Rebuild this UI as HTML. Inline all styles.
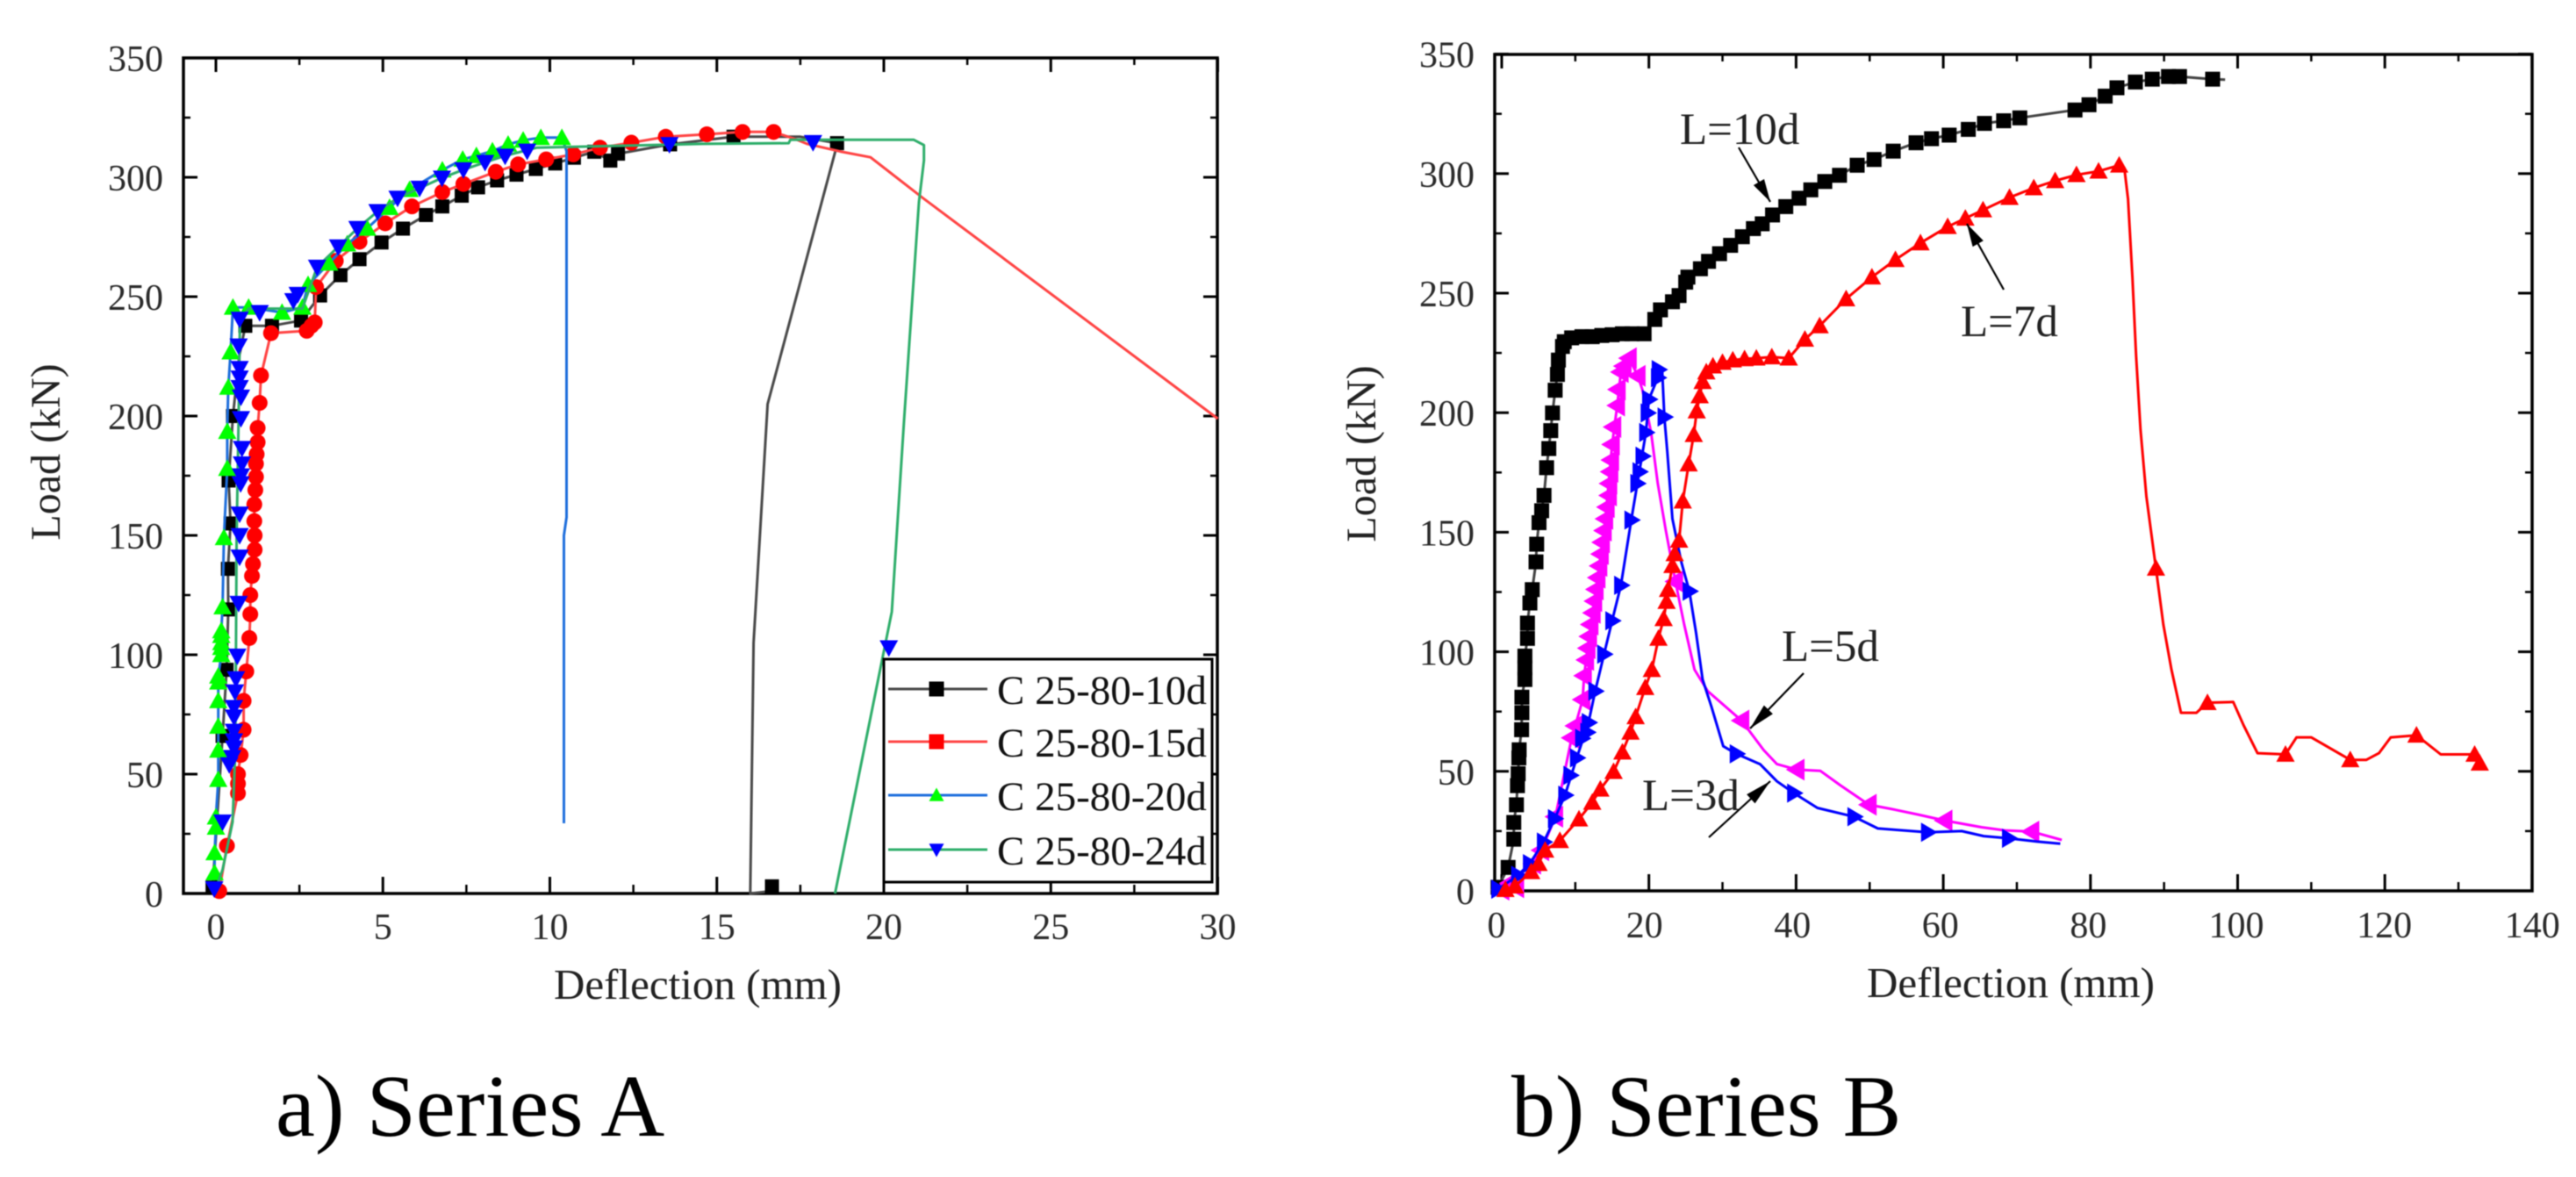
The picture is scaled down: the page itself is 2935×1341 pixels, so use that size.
<!DOCTYPE html>
<html lang="en">
<head>
<meta charset="utf-8">
<title>Load-deflection curves</title>
<style>
html,body{margin:0;padding:0;background:#fff;width:2935px;height:1341px;overflow:hidden}
svg{display:block;filter:blur(0.6px)}
text{font-family:"Liberation Serif","Times New Roman",serif}
</style>
</head>
<body>
<svg id="figure" xmlns="http://www.w3.org/2000/svg" width="2935" height="1341" viewBox="0 0 2935 1341">
<rect width="2935" height="1341" fill="#fff"/>
<g id="plotA"></g>
<g id="plotB"></g>
<text transform="translate(68,515) rotate(-90)" text-anchor="middle" font-size="48" fill="#222">Load (kN)</text>
<text transform="translate(1567,517) rotate(-90)" text-anchor="middle" font-size="48" fill="#222">Load (kN)</text>
<text x="795" y="1138" text-anchor="middle" font-size="49" fill="#222">Deflection (mm)</text>
<text x="2291" y="1136" text-anchor="middle" font-size="49" fill="#222">Deflection (mm)</text>
<text x="314" y="1294" font-size="101" fill="#000">a) Series A</text>
<text x="1722" y="1294" font-size="100" fill="#000">b) Series B</text>
<text x="1914" y="164" font-size="51" fill="#222">L=10d</text>
<text x="2234" y="383" font-size="51" fill="#222">L=7d</text>
<text x="2030" y="753" font-size="51" fill="#222">L=5d</text>
<text x="1871" y="923" font-size="51" fill="#222">L=3d</text>
<g id="arrows"></g>
<g id="legend"></g>
</svg>
<script>
/* ---------- tick data ---------- */
const aXTicks = [0,5,10,15,20,25,30];
const aXMinor = [2.5,7.5,12.5,17.5,22.5,27.5];
const bXTicks = [0,20,40,60,80,100,120,140];
const bXMinor = [10,30,50,70,90,110,130];
const yTicks = [0,50,100,150,200,250,300,350];
const yMinor = [25,75,125,175,225,275,325];

/* ---------- series A : marker readings ---------- */
const a10MarkX = [-0.1,0.2,0.32,0.37,0.36,0.44,0.38,0.51,0.88,1.68,2.55,3.12,3.73,4.3,4.96,5.6,6.29,6.78,7.36,7.85,8.42,9.0,9.58,10.16,10.72,11.33,11.81,12.04,13.6,15.5,18.6,16.65];
const a10MarkY = [2.5,66,93.7,119,136,155,173,200,237.8,237.8,240,250.5,259,265.7,272.7,278.5,284.2,287.8,292.3,295.8,298.7,301.1,303.5,305.8,308.2,310.7,307,309.9,313.8,317,314.3,3];
const a10LineX = [-0.1,0.2,0.32,0.37,0.36,0.44,0.38,0.51,0.7,0.88,1.68,2.55,3.12,3.73,4.3,4.96,5.6,6.29,6.78,7.36,7.85,8.42,9.0,9.58,10.16,10.72,11.33,11.81,12.04,13.6,15.5,17.5,18.6,18.55,16.52,16.1,16.0,16.65];
const a10LineY = [2.5,66,93.7,119,136,155,173,200,225,237.8,237.8,240,250.5,259,265.7,272.7,278.5,284.2,287.8,292.3,295.8,298.7,301.1,303.5,305.8,308.2,310.7,307,309.9,313.8,317,317,314.3,311,205,105,0,1];

const a15MarkX = [0.1,0.33,0.66,0.66,0.66,0.74,0.83,0.83,0.91,1,1.03,1.03,1.08,1.11,1.16,1.16,1.15,1.15,1.18,1.2,1.2,1.22,1.25,1.25,1.31,1.35,1.65,2.72,2.86,2.96,3.0,3.59,4.3,5.07,5.87,6.78,7.41,8.38,9.05,9.89,10.7,11.5,12.44,13.47,14.7,15.77,16.7];
const a15MarkY = [1,20,42,46,50,58,68.6,80.7,93,107,117,125,133,138,144,150,156,163,169,174.5,180,184,189,195,205.5,217,234.7,235.7,237.8,239.2,254,265,273,280.7,287.8,293.8,297.2,302.3,305.4,307.5,309.6,312.4,314.5,317,318,319,319];
const a15TailX = [17.35,17.7,18.7,19.6,21.2,30];
const a15TailY = [316,314,310.8,308.4,291,198.9];

const a20MarkX = [-0.04,-0.04,0,0,0.07,0.07,0.07,0.07,0.07,0.07,0.16,0.16,0.16,0.16,0.16,0.2,0.24,0.34,0.34,0.37,0.44,0.51,0.98,1.98,2.59,2.76,3.39,3.93,4.53,5.2,5.8,6.78,7.39,7.8,8.28,8.75,9.2,9.73,10.36];
const a20MarkY = [8.6,17,27.7,32,47.7,60,70,80.7,88.5,91,100,103,105,108,110,120,149,178,193.5,212,226.8,245.5,245.5,243.4,245.5,255,264,272,278.6,287.3,294.8,303,307.5,309,311,313.8,315.5,316.6,316.6];
const a20TailX = [10.5,10.5,10.42,10.42];
const a20TailY = [311,157.6,150,29.4];

const a24MarkX = [-0.05,0.2,0.4,0.49,0.54,0.54,0.54,0.54,0.54,0.57,0.6,0.64,0.68,0.71,0.71,0.71,0.74,0.75,0.78,0.78,0.75,0.75,0.71,0.71,0.71,0.68,0.71,1.31,2.32,2.45,3.03,3.66,4.24,4.84,5.44,6.1,6.77,7.41,8.06,8.66,9.32,13.58,17.88,20.15];
const a24MarkY = [2,30,54,57,61,64,68,74,78,84.5,90,99.5,121.6,141,150,159,171.7,175,180,186.5,199,208,212,216,220,229.4,240.6,243.4,248.4,251,262.4,270.9,278.6,285.7,291.3,295.5,299.7,303.2,306.3,308.9,311,313.8,314.6,103];
const a24LineX = [18.54,20.24,20.6,21.05,21.2,21.2,20.9,17.2,17.15,14.56,9.6,8.66,8.06,7.41,6.77,6.1,5.44,4.84,4.24,3.66,3.03,2.59,0.98,0.72,0.68,0.62,0.6,0.58,0.5,0.2,-0.05];
const a24LineY = [0,118,196.8,289.6,307,313.5,315.7,315.7,314.3,314,312.4,309,306.3,303.2,299.7,295.5,291.3,285.7,278.6,270.9,262.4,245,245,240,200,150,100,60,30,10,0];

/* ---------- series B : marker readings ---------- */
const b10MarkX = [-0.5,0.87,1.64,1.64,2,2.14,2.24,2.33,2.37,2.7,2.74,2.74,3.15,3.15,3.15,3.5,3.5,3.83,4.15,4.66,4.75,5.07,5.43,5.75,6.1,6.4,6.66,6.9,7.26,7.57,7.7,8.26,8.5,9.5,10.9,12.3,13.6,15,16.4,17.7,19.35,20.8,21.57,23.2,24.1,25,25.3,27,28.1,29.6,31.1,32.7,34.2,35.4,36.8,38.6,40.4,42,43.9,45.9,48.3,50.6,53.2,56.3,58.4,60.8,63.4,65.6,68.2,70.4,77.9,79.8,82,83.6,86.1,88.4,90.6,92.1,96.6];
const b10MarkY = [1.5,9.8,21.6,28.6,36,44,49,55.6,59,67.4,74.5,81,88.4,93.3,98.2,105.6,112,120.4,126,137.6,145,154,159,165.4,177,185,192.5,199.9,209.4,216,222,227.7,229.7,231.3,231.8,231.8,232.3,232.6,233,233,233,239,243,246.4,249,254.6,256.7,260.2,263.3,266.5,270,273.6,277,279,282.7,286.2,289.7,293.2,296.7,299.3,303.5,305.9,309.4,312.9,314.6,316.1,318.5,321,322.1,323.3,326.6,328.8,332.4,335.9,338.3,339.5,340.6,340.6,339.5];
const b10TailX = [98.3];
const b10TailY = [339.3];

const b5MarkX = [0,1.1,2,4.3,5.4,7.3,9.5,10,11,11.2,11.5,11.7,11.9,12.1,12.4,12.6,12.8,13.05,13.3,13.5,13.65,13.9,14.1,14.3,14.6,14.65,14.8,14.9,15,15.2,15.7,15.8,16.2,16.6,17.3,18.5,23.6,32.6,40.1,49.9,60.2,72];
const b5MarkY = [0.5,3.2,1.5,11.4,17,31,64,69,80,90,96.6,101.5,106.4,111.4,116.3,121.2,126.1,131,135.9,140.9,145.8,150.7,155.6,160.5,165.4,170.4,175.3,180.2,186.7,194,203,209.7,217,219.5,222.8,215.4,129.4,71.2,50.7,36,29.4,24.8];
const b5LineX = [0,2,4.3,5.4,7.3,9.5,10,11,11.2,12.1,13.05,14.1,15,15.7,16.2,17.3,18.5,19.1,20.3,21.2,22.3,23.6,24.8,26.2,28,32.6,35.6,37.4,40.1,43.3,46,49.9,52.9,56.6,60.2,65.2,68.4,72,76.1];
const b5LineY = [0.5,1.5,11.4,17,31,64,69,80,90,111.4,131,155.6,186.7,203,217,222.8,215.4,209.7,191.7,170.4,150.7,129.4,111.4,92.5,83.5,71.2,58.9,53,50.7,50.2,44.2,36,34.3,31.9,29.4,26.6,25.3,24.8,21.3];

const b3MarkX = [-0.5,2.2,3.8,5.7,7.2,8.6,9.3,10.2,10.9,11.6,11.8,12.7,13.9,15,16.2,17.6,18.4,18.7,19.1,19.6,19.8,20,21.2,21.3,22.1,25.5,31.9,39.7,47.9,57.9,68.9];
const b3MarkY = [0.7,6.5,11.4,20.4,30.2,40,48.3,55.6,63.8,66.3,70.4,83.5,99,113,127.8,155.1,170.4,175.3,181.8,191.7,199.9,205.6,214.6,218,198.2,125.3,57.3,40.9,31,24.5,22];
const b3LineX = [-0.5,2.2,3.8,5.7,7.2,8.6,10.2,11.8,12.7,13.9,15,16.2,17.6,18.7,19.6,20,21.2,21.8,22.1,22.5,23.2,24.4,25.5,26.4,27.3,28.5,30.1,31.9,35.1,37.4,39.7,42.9,47.9,51.1,57.9,62.5,65.5,68.9,72.8,75.9];
const b3LineY = [0.7,6.5,11.4,20.4,30.2,40,55.6,70.4,83.5,99,113,127.8,155.1,175.3,191.7,205.6,214.6,218,198.2,183.5,155.6,137.6,125.3,108,88.4,77,60.5,57.3,53,45.8,40.9,34.7,31,26.1,24.5,25,22.9,22,20.6,19.7];

const b7MarkX = [0.5,1.8,4,5,5.9,7.9,10.5,12.3,13.4,15.2,16.4,17.5,18.2,19.5,20.4,21.3,22,22.4,22.6,23.2,23.5,24.1,24.6,25.4,26.1,26.5,26.9,27.3,27.8,28.7,30,31.4,33,34.6,36.7,39,41.2,43.2,46.8,50.3,53.5,56.9,60.6,63,65.4,69,72.3,75.2,78.1,81.1,83.9,88.9,95.9,106.5,115.3,124.3,132.2,132.9];
const b7MarkY = [0.5,2,8,11.4,17,21,30,37,42.5,49.9,58,66.3,72.8,85,92.5,105.6,113.8,121,126,136,141,146.6,163,178.5,190.8,200.7,207,213,217,219.5,221,222,222.5,222.8,223.3,222.8,230.7,236.3,247.6,256.7,264,271,277.8,281.3,284.8,290,294,297,299.5,301,303.5,134.9,78.7,57.1,54.8,65.1,57.1,53.4];
const b7TailX = [84.6,85.1,85.7,86.2,86.8,87.6,88.9,89.9,91,92.3,94.4,95.9,99.4,100.8,102.7,106.5,108,110,115.3,117.5,119.2,120.8,124.3,127.6,132.2,132.9];
const b7TailY = [302.3,289.4,256.6,223.8,193,165,134.9,111.5,92.7,74.5,74.5,78.7,79,69.3,57.6,57.1,64.2,64.2,54.8,54.8,57.6,64.2,65.1,57.1,57.1,53.4];
const b7RiseCount = 51;

/* ---------- legend text ---------- */
const legendLabels = ["C 25-80-10d","C 25-80-15d","C 25-80-20d","C 25-80-24d"];

/* ---------- axis functions ---------- */
const axA = {left:209,right:1387,top:66,bottom:1018,x0:246,xPer:38.05,yPer:2.72,labelX0:246,labelPer:38.05};
const axB = {left:1703,right:2885,top:62,bottom:1015,x0:1711,xPer:8.385,yPer:2.724,labelX0:1705,labelPer:8.43};
function sx(ax,v){return ax.x0+ax.xPer*v;}
function sy(ax,v){return ax.bottom-ax.yPer*v;}
function lx(ax,v){return ax.labelX0+ax.labelPer*v;}

const NS = "http://www.w3.org/2000/svg";
function mk(tag,parent,attrs){
  const e = document.createElementNS(NS,tag);
  for(const k in attrs){e.setAttribute(k,attrs[k]);}
  parent.appendChild(e);
  return e;
}

function markerPoints(kind,cx,cy,s){
  if(kind==="tri-up"){return [[cx,cy-s],[cx+s,cy+s*0.8],[cx-s,cy+s*0.8]];}
  if(kind==="tri-down"){return [[cx-s,cy-s*0.8],[cx+s,cy-s*0.8],[cx,cy+s]];}
  if(kind==="tri-right"){return [[cx-s*0.7,cy-s],[cx+s,cy],[cx-s*0.7,cy+s]];}
  if(kind==="tri-left"){return [[cx+s*0.7,cy-s],[cx-s,cy],[cx+s*0.7,cy+s]];}
  return [];
}

function drawMarker(g,kind,cx,cy,s,color,name){
  let m;
  if(kind==="square"){
    m = mk("rect",g,{x:cx-s,y:cy-s,width:2*s,height:2*s,fill:color});
  }else if(kind==="circle"){
    m = mk("circle",g,{cx:cx,cy:cy,r:s,fill:color});
  }else{
    m = mk("polygon",g,{points:markerPoints(kind,cx,cy,s).map(p=>p.join(",")).join(" "),fill:color});
  }
  
  
}

function drawSeries(parent,ax,name,lineX,lineY,markX,markY,lineColor,lineW,kind,size,markColor){
  const g = mk("g",parent,{});
  
  
  const d = lineX.map((v,i)=>sx(ax,v).toFixed(1)+","+sy(ax,lineY[i]).toFixed(1)).join(" ");
  const line = mk("polyline",g,{points:d,fill:"none",stroke:lineColor,"stroke-width":lineW,"stroke-linejoin":"round"});
  
  
  markX.forEach((v,i)=>{
    drawMarker(g,kind,sx(ax,v),sy(ax,markY[i]),size,markColor,name+'-marker');
  });
}

function drawAxes(parent,ax,name,xTicks,xMinor,labelRight,xLabelY){
  const g = mk("g",parent,{});
  
  
  const frame = mk("rect",g,{x:ax.left,y:ax.top,width:ax.right-ax.left,height:ax.bottom-ax.top,fill:"none",stroke:"#000","stroke-width":3.5});
  
  
  function tick(x1,y1,x2,y2,w){
    const t = mk("line",g,{x1:x1,y1:y1,x2:x2,y2:y2,stroke:"#000","stroke-width":w});
    
    
  }
  xTicks.forEach(v=>{
    const x = sx(ax,v);
    tick(x,ax.top,x,ax.top+16,3);
    tick(x,ax.bottom,x,ax.bottom-19,3);
    const l = mk("text",g,{x:lx(ax,v),y:xLabelY,"text-anchor":"middle","font-size":42,fill:"#2a2a2a"});
    l.textContent = String(v);
    
    
  });
  xMinor.forEach(v=>{
    const x = sx(ax,v);
    tick(x,ax.top,x,ax.top+8,2.5);
    tick(x,ax.bottom,x,ax.bottom-10,2.5);
  });
  yTicks.forEach(v=>{
    const y = sy(ax,v);
    tick(ax.left,y,ax.left+16,y,3);
    tick(ax.right,y,ax.right-16,y,3);
    const l = mk("text",g,{x:labelRight,y:y+15,"text-anchor":"end","font-size":42,fill:"#2a2a2a"});
    l.textContent = String(v);
    
    
  });
  yMinor.forEach(v=>{
    const y = sy(ax,v);
    tick(ax.left,y,ax.left+8,y,2.5);
    tick(ax.right,y,ax.right-8,y,2.5);
  });
}

/* ---------- plot A ---------- */
const plotA = document.getElementById("plotA");
drawAxes(plotA,axA,"series-a",aXTicks,aXMinor,186,1070);
drawSeries(plotA,axA,"series-c25-80-10d",a10LineX,a10LineY,a10MarkX,a10MarkY,"#4a4a4a",3,"square",8,"#000");
drawSeries(plotA,axA,"series-c25-80-15d",a15MarkX.concat(a15TailX),a15MarkY.concat(a15TailY),a15MarkX,a15MarkY,"#f44",3,"circle",9,"#f00");
drawSeries(plotA,axA,"series-c25-80-20d",a20MarkX.concat(a20TailX),a20MarkY.concat(a20TailY),a20MarkX,a20MarkY,"#1f6fdc",3,"tri-up",10.5,"#0f0");
drawSeries(plotA,axA,"series-c25-80-24d",a24LineX,a24LineY,a24MarkX,a24MarkY,"#2fae6b",3,"tri-down",10.5,"#00f");

/* ---------- plot B ---------- */
const plotB = document.getElementById("plotB");
drawAxes(plotB,axB,"series-b",bXTicks,bXMinor,1680,1068);
drawSeries(plotB,axB,"curve-l-10d",b10MarkX.concat(b10TailX),b10MarkY.concat(b10TailY),b10MarkX,b10MarkY,"#444",3,"square",8.5,"#000");
drawSeries(plotB,axB,"curve-l-5d",b5LineX,b5LineY,b5MarkX,b5MarkY,"#f0f",3,"tri-left",12.5,"#f0f");
drawSeries(plotB,axB,"curve-l-3d",b3LineX,b3LineY,b3MarkX,b3MarkY,"#00f",3,"tri-right",11,"#00f");
drawSeries(plotB,axB,"curve-l-7d",b7MarkX.slice(0,b7RiseCount).concat(b7TailX),b7MarkY.slice(0,b7RiseCount).concat(b7TailY),b7MarkX,b7MarkY,"#f00",3,"tri-up",10.5,"#f00");

/* ---------- annotation arrows ---------- */
const arrows = document.getElementById("arrows");
function arrow(name,x1,y1,x2,y2,headLen,headW){
  const dx = x2-x1, dy = y2-y1, len = Math.hypot(dx,dy);
  const ux = dx/len, uy = dy/len;
  const a = mk("line",arrows,{x1:x1,y1:y1,x2:x2,y2:y2,stroke:"#000","stroke-width":2.2});
  
  
  const bx = x2-ux*headLen, by = y2-uy*headLen;
  const pts = [[x2,y2],[bx-uy*headW,by+ux*headW],[bx+uy*headW,by-ux*headW]];
  const h = mk("polygon",arrows,{points:pts.map(p=>p.join(",")).join(" "),fill:"#000"});
  
  
}
arrow("arrow-l-10d",1981,168,2017,230,26,7);
arrow("arrow-l-7d",2283,330,2241,255,26,7);
arrow("arrow-l-5d",2055,767,1994,830,30,7);
arrow("arrow-l-3d",1947,954,2017,890,30,7);

/* ---------- legend ---------- */
const legend = document.getElementById("legend");
const legendBox = mk("rect",legend,{x:1007,y:751,width:374,height:254,fill:"#fff",stroke:"#000","stroke-width":3});


const legendRows = [785,845,906,968];
const legendLine = ["#4a4a4a","#f44","#1f6fdc","#2fae6b"];
const legendKind = ["square","square","tri-up","tri-down"];
const legendMark = ["#000","#f00","#0f0","#00f"];
legendLabels.forEach((t,i)=>{
  const y = legendRows[i];
  const ln = mk("line",legend,{x1:1012,y1:y,x2:1125,y2:y,stroke:legendLine[i],"stroke-width":3});
  
  
  drawMarker(legend,legendKind[i],1067,y,8.5,legendMark[i],'legend-marker');
  const tx = mk("text",legend,{x:1136,y:y+17,"font-size":47,fill:"#111"});
  tx.textContent = t;
  
  
});
</script>
</body>
</html>
